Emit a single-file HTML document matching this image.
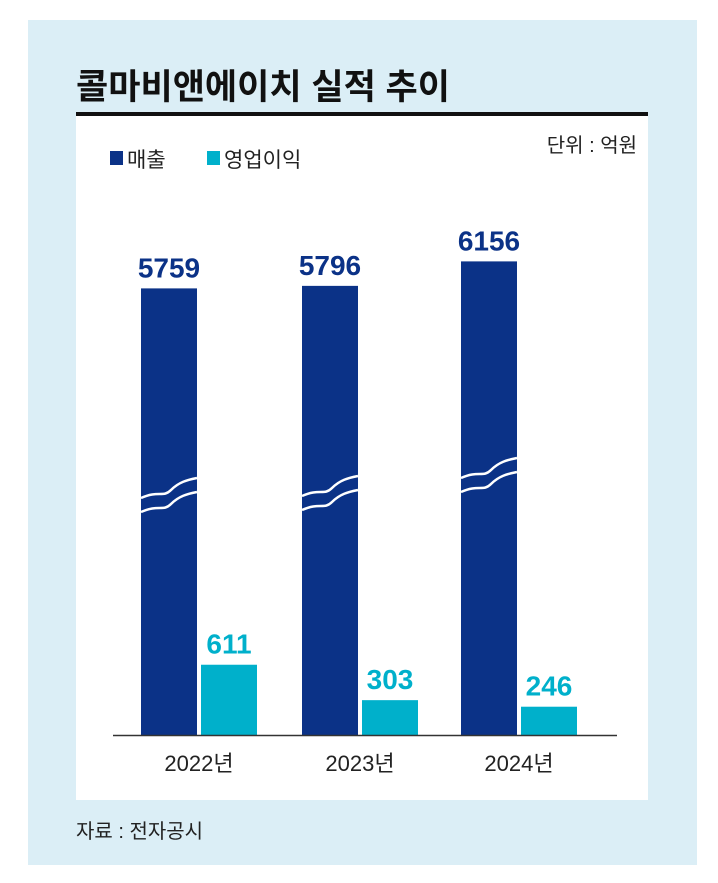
<!DOCTYPE html>
<html><head><meta charset="utf-8"><style>
body{margin:0;background:#fff;}
svg{display:block;font-family:"Liberation Sans","Noto Sans CJK KR",sans-serif;}
</style></head><body>
<svg width="718" height="883" viewBox="0 0 718 883">
<rect x="28" y="20" width="669" height="845" fill="#dbeef6"/>
<rect x="76" y="113" width="572" height="687" fill="#ffffff"/>
<text x="76" y="99" font-size="35" font-weight="bold" fill="#111" textLength="374" lengthAdjust="spacingAndGlyphs">콜마비앤에이치 실적 추이</text>
<rect x="76" y="112" width="572" height="4" fill="#111"/>
<text x="637" y="152" font-size="20" fill="#222" text-anchor="end">단위 : 억원</text>
<rect x="110" y="151" width="13" height="14" fill="#0b3287"/>
<text x="127" y="167" font-size="21" fill="#222">매출</text>
<rect x="207" y="151" width="13" height="14" fill="#00b0cb"/>
<text x="224" y="167" font-size="21" fill="#222">영업이익</text>
<g id="bars"></g>
<line x1="113" y1="735.5" x2="617" y2="735.5" stroke="#333" stroke-width="1.5"/>
<text x="76" y="838" font-size="20" fill="#222">자료 : 전자공시</text>
</svg>
<script>
const categories=["2022년","2023년","2024년"];
const sales=[5759,5796,6156];
const profit=[611,303,246];
const NS="http://www.w3.org/2000/svg";
const g=document.getElementById("bars");
const base=735;
function ySales(v){return base-(395+(v-5000)*0.068);}
function yProfit(v){return base-v*0.115;}
const breakY=[490,488,470];
function add(tag,attrs){const e=document.createElementNS(NS,tag);for(const k in attrs)e.setAttribute(k,attrs[k]);g.appendChild(e);return e;}
categories.forEach((c,i)=>{
  const cx=[199,360,519][i];
  const sx=cx-58, px=cx+2, w=56;
  const ys=ySales(sales[i]);
  const b=add("rect",{x:sx,y:ys,width:w,height:base-ys,fill:"#0b3287"});
  
  
  const by=breakY[i];
  [0,14].forEach(off=>{
    const p=add("path",{d:`M${sx} ${by+off+8} C${sx+18} ${by+off} ${sx+22} ${by+off+8} ${sx+30} ${by+off} S${sx+46} ${by+off-10} ${sx+w} ${by+off-12}`,stroke:"#fff","stroke-width":2.5,fill:"none"});
    
    
  });
  const t1=add("text",{x:sx+w/2,y:ys-11,"font-size":28,"font-weight":"bold",fill:"#0b3287","text-anchor":"middle"});
  t1.textContent=sales[i];
  
  
  const yp=yProfit(profit[i]);
  const b2=add("rect",{x:px,y:yp,width:w,height:base-yp,fill:"#00b0cb"});
  
  
  const t2=add("text",{x:px+w/2,y:yp-11,"font-size":28,"font-weight":"bold",fill:"#00b0cb","text-anchor":"middle"});
  t2.textContent=profit[i];
  
  
  const t3=add("text",{x:cx,y:771,"font-size":22,fill:"#222","text-anchor":"middle"});
  t3.textContent=c;
  
  
});
</script>
</body></html>
